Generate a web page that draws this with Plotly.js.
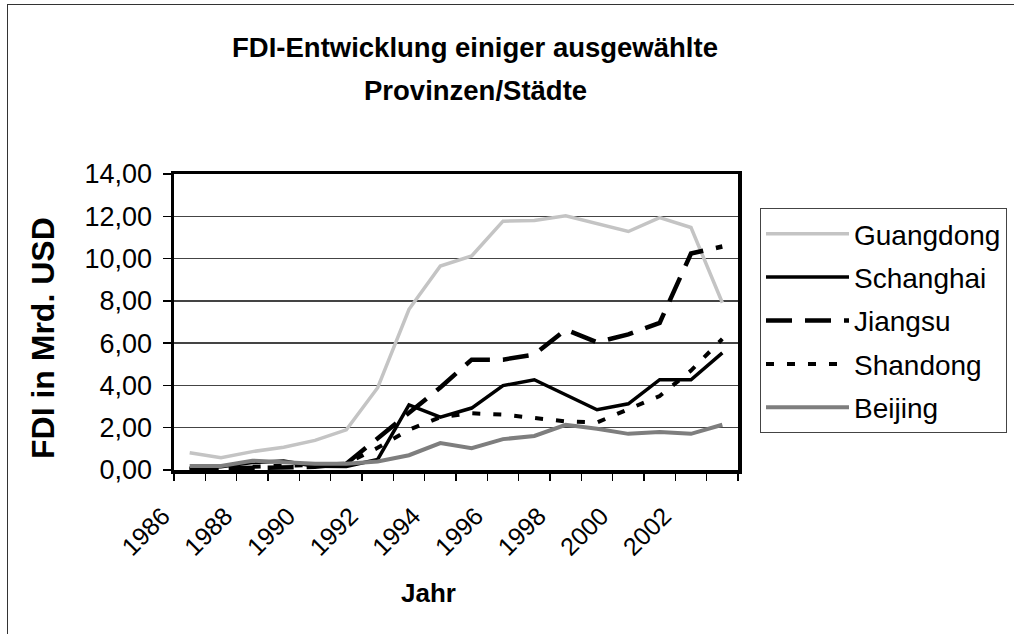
<!DOCTYPE html>
<html>
<head>
<meta charset="utf-8">
<script src="https://cdn.plot.ly/plotly-3.0.1.min.js"></script>
<style>
  html, body { margin: 0; padding: 0; background: #fff; overflow: hidden; }
  #wrap { position: relative; width: 1014px; height: 634px; overflow: hidden; }
  #chart { width: 1014px; height: 634px; }
  #frame { position: absolute; left: 7px; top: 4px; width: 1200px; height: 800px;
           border-left: 1.5px solid #333; border-top: 1.5px solid #333; pointer-events: none; }
</style>
</head>
<body>
<div id="wrap">
  <div id="chart"></div>
  <div id="frame"></div>
</div>
<script>
const years = [1986, 1987, 1988, 1989, 1990, 1991, 1992, 1993, 1994, 1995, 1996, 1997, 1998, 1999, 2000, 2001, 2002, 2003];
const tickYears = [1986, 1988, 1990, 1992, 1994, 1996, 1998, 2000, 2002];
const tickLabels = ["1986", "1988", "1990", "1992", "1994", "1996", "1998", "2000", "2002"];

const guangdong = [0.82, 0.58, 0.87, 1.08, 1.40, 1.90, 3.89, 7.60, 9.65, 10.12, 11.77, 11.80, 12.02, 11.63, 11.28, 11.94, 11.47, 7.91];
const schanghai = [0.10, 0.15, 0.35, 0.42, 0.18, 0.17, 0.50, 3.08, 2.50, 2.93, 3.99, 4.27, 3.56, 2.85, 3.13, 4.27, 4.27, 5.54];
const jiangsu   = [0.05, 0.08, 0.10, 0.12, 0.15, 0.30, 1.50, 2.67, 3.90, 5.22, 5.22, 5.46, 6.64, 6.04, 6.41, 6.96, 10.24, 10.57];
const shandong  = [0.05, 0.10, 0.15, 0.20, 0.25, 0.30, 1.05, 1.90, 2.50, 2.68, 2.62, 2.45, 2.30, 2.25, 2.88, 3.50, 4.70, 6.20];
const beijing   = [0.19, 0.19, 0.44, 0.35, 0.30, 0.30, 0.40, 0.70, 1.27, 1.03, 1.46, 1.61, 2.14, 1.95, 1.71, 1.80, 1.71, 2.14];

const FONT = "Liberation Sans, Arial, sans-serif";

const traces = [
  {x: years, y: guangdong, name: "Guangdong", legendgroup: "g1", mode: "lines",
   line: {color: "#c4c4c4", width: 3.5}},
  {x: years, y: schanghai, name: "Schanghai", legendgroup: "g2", mode: "lines",
   line: {color: "#000000", width: 3.5}},
  {x: years, y: jiangsu, name: "Jiangsu", legendgroup: "g3", mode: "lines",
   line: {color: "#000000", width: 4.5, dash: "26px,13px"}},
  {x: years, y: shandong, name: "Shandong", legendgroup: "g4", mode: "lines",
   line: {color: "#000000", width: 4, dash: "8px,13px"}},
  {x: years, y: beijing, name: "Beijing", legendgroup: "g5", mode: "lines",
   line: {color: "#7e7e7e", width: 4}}
];

const layout = {
  width: 1014, height: 634,
  margin: {l: 174, r: 276, t: 174, b: 164, pad: 0, autoexpand: false},
  paper_bgcolor: "#ffffff", plot_bgcolor: "#ffffff",
  separators: ",.",
  font: {family: FONT, size: 25, color: "#000"},
  title: {
    text: "<b>FDI-Entwicklung einiger ausgewählte</b>",
    font: {family: FONT, size: 27.5, color: "#000"},
    xref: "container", yref: "container",
    x: 475 / 1014, xanchor: "center",
    y: 1 - 47 / 634, yanchor: "middle"
  },
  showlegend: true,
  legend: {
    xref: "container", yref: "container",
    x: 760 / 1014, y: 1 - 208 / 634,
    xanchor: "left", yanchor: "top",
    bordercolor: "#444", borderwidth: 1, bgcolor: "#fff",
    font: {family: FONT, size: 28, color: "#000"},
    itemwidth: 83, tracegroupgap: 4
  },
  xaxis: {
    type: "linear",
    range: [1985.5, 2003.5],
    tickmode: "array", tickvals: tickYears, ticktext: tickLabels,
    ticks: "", tickangle: -45,
    tickfont: {family: FONT, size: 25, color: "#000"},
    ticklabelstandoff: 18, ticklabelshift: -27,
    showgrid: false, zeroline: false,
    showline: true, linecolor: "#000", linewidth: 3.5, mirror: true,
    minor: {tick0: 1985.5, dtick: 1, ticks: "outside", ticklen: 7, tickcolor: "#000", tickwidth: 1.5, showgrid: false},
    automargin: false,
    fixedrange: true
  },
  yaxis: {
    range: [0, 14], dtick: 2, tick0: 0, tickformat: ".2f",
    ticks: "outside", ticklen: 8, tickcolor: "#000", tickwidth: 1.5,
    tickfont: {family: FONT, size: 27, color: "#000"},
    ticklabelstandoff: 5,
    showgrid: true, gridcolor: "#444", gridwidth: 1.3,
    zeroline: false,
    showline: true, linecolor: "#000", linewidth: 3.5, mirror: true,
    automargin: false,
    fixedrange: true
  },
  annotations: [
    {text: "<b>Provinzen/Städte</b>", xref: "paper", yref: "paper",
     x: (475 - 174) / 564, y: (470 - 90) / 296, xanchor: "center", yanchor: "middle",
     showarrow: false, font: {family: FONT, size: 27.5, color: "#000"}},
    {text: "<b>FDI in Mrd. USD</b>", xref: "paper", yref: "paper",
     x: (43 - 174) / 564, y: (470 - 338) / 296, xanchor: "center", yanchor: "middle",
     textangle: -90, showarrow: false, font: {family: FONT, size: 32, color: "#000"}},
    {text: "<b>Jahr</b>", xref: "paper", yref: "paper",
     x: (428 - 174) / 564, y: (470 - 593) / 296, xanchor: "center", yanchor: "middle",
     showarrow: false, font: {family: FONT, size: 26, color: "#000"}}
  ]
};

Plotly.newPlot("chart", traces, layout, {staticPlot: true, displayModeBar: false});
</script>
</body>
</html>
